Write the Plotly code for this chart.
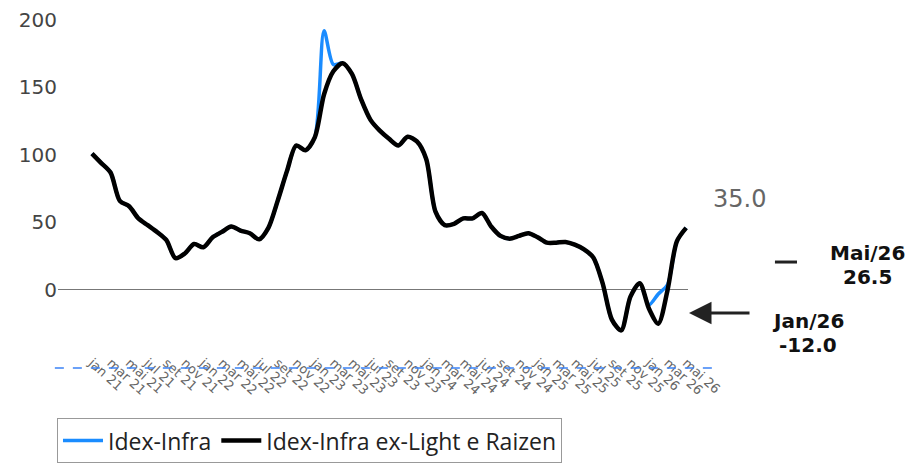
import plotly.graph_objects as go

months_pt = ["jan", "fev", "mar", "abr", "mai", "jun", "jul", "ago", "set", "out", "nov", "dez"]
years = ["21", "22", "23", "24", "25", "26"]
categories = [f"{m} {y}" for y in years for m in months_pt][:65]  # jan 21 .. mai 26
tick_labels = categories[::2]

idex_ex = [101, 94, 87, 66, 62, 53, 48, 43, 37, 23.5,
           27, 34, 31.6, 39, 43, 47, 44, 42, 37.5, 46,
           66, 88, 107, 103.5, 113, 145, 162, 168, 160, 141,
           126, 118, 112, 107, 113.5, 110, 97, 58, 48, 49,
           53, 53, 57, 47, 40, 38, 40, 42, 39, 35,
           35, 35.5, 33.5, 30, 24, 5, -22, -30, -5, 5,
           -14, -25, 0, 36, 46]
idex = [101, 94, 87, 66, 62, 53, 48, 43, 37, 23.5,
        27, 34, 31.6, 39, 43, 47, 44, 42, 37.5, 46,
        66, 88, 107, 103.5, 113, 192, 167, 168, 160, 141,
        126, 118, 112, 107, 113.5, 110, 97, 58, 48, 49,
        53, 53, 57, 47, 40, 38, 40, 42, 39, 35,
        35, 35.5, 33.5, 30, 24, 5, -22, -30, -5, 5,
        -11, -3, 4, 36, 46]
y_ticks = [0, 50, 100, 150, 200]

fig = go.Figure()
fig.add_trace(go.Scatter(x=categories, y=idex, name="Idex-Infra", mode="lines",
                         line=dict(color="#1a8cff", width=3.5, shape="spline", smoothing=0.8)))
fig.add_trace(go.Scatter(x=categories, y=idex_ex, name="Idex-Infra ex-Light e Raizen", mode="lines",
                         line=dict(color="#000000", width=4.5, shape="spline", smoothing=0.8)))

fig.update_layout(
    width=909, height=467,
    margin=dict(l=58, r=221, t=20, b=115, autoexpand=False),
    paper_bgcolor="white", plot_bgcolor="white",
    font=dict(family="DejaVu Sans", color="#444444"),
    xaxis=dict(type="category", range=[-3.66, 64.2], tickmode="array",
               tickvals=tick_labels, ticktext=tick_labels, tickangle=42,
               tickfont=dict(size=13, color="#666666", family="DejaVu Sans"), showgrid=False,
               showline=False, zeroline=False, ticks="", automargin=False),
    yaxis=dict(range=[-46, 200], tickvals=y_ticks, showgrid=False,
               zeroline=True, zerolinecolor="#777777", zerolinewidth=1,
               showline=False, ticks="", automargin=False,
               tickfont=dict(size=20, color="#444444", family="DejaVu Sans")),
    legend=dict(orientation="h", x=-0.0016, y=-0.199, xanchor="left", yanchor="top",
                bordercolor="#999999", borderwidth=1, itemwidth=40,
                font=dict(size=23, color="#222222", family="Open Sans")),
    showlegend=True,
)

# blue dashed baseline
fig.add_shape(type="line", xref="paper", yref="paper", x0=-0.005, x1=1.048,
              y0=-0.048, y1=-0.048, line=dict(color="#3b82f6", width=1.5, dash="dash"))
# short dash next to Mai/26
fig.add_shape(type="line", xref="paper", yref="paper", x0=1.138, x1=1.173,
              y0=0.271, y1=0.271, line=dict(color="#222222", width=3))

bold = dict(family="DejaVu Sans", size=20, color="#111111")
fig.add_annotation(xref="paper", yref="paper", x=1.0825, y=0.46, text="35.0", showarrow=False,
                   xanchor="center", yanchor="middle",
                   font=dict(family="DejaVu Sans", size=24, color="#666666"))
for txt, xx, yy in [("Mai/26", 1.2857, 0.2967), ("26.5", 1.2857, 0.2244),
                    ("Jan/26", 1.1905, 0.0919), ("-12.0", 1.1905, 0.0196)]:
    fig.add_annotation(xref="paper", yref="paper", x=xx, y=yy, text=f"<b>{txt}</b>",
                       showarrow=False, xanchor="center", yanchor="middle", font=bold)
fig.add_annotation(xref="paper", yref="paper", x=1.0016, y=0.1175, ax=62, ay=0,
                   text="", showarrow=True, arrowhead=2, arrowsize=1.5, arrowwidth=3,
                   arrowcolor="#222222")

fig.write_html("out.html", post_script="document.body.style.margin='0';",
               config={"displayModeBar": False})
